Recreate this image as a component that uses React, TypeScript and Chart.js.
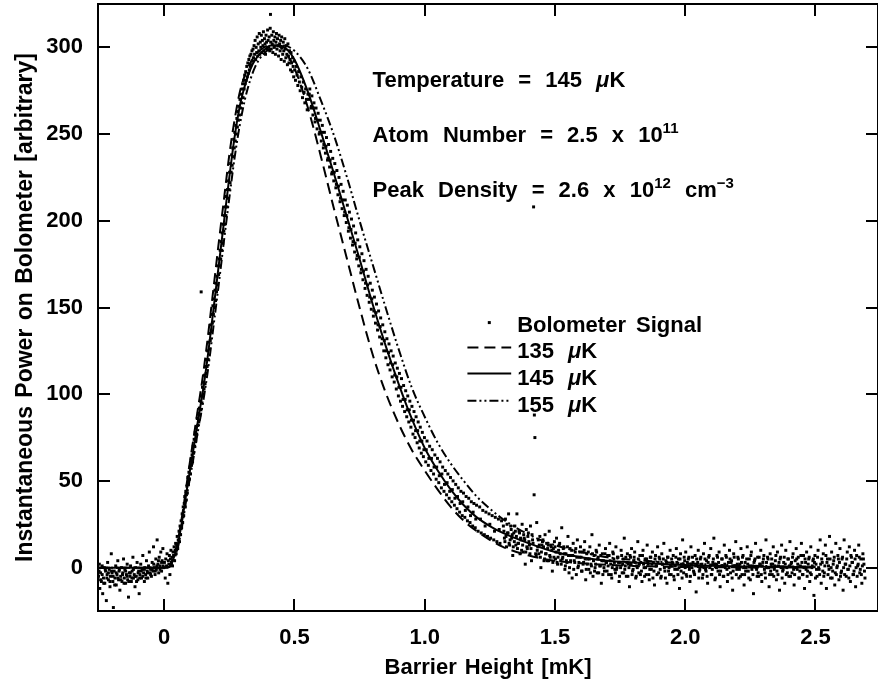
import React, { useEffect, useRef } from "react";
import { Chart, registerables } from "chart.js";

Chart.register(...registerables);

const X_MIN = -0.254;
const X_MAX = 2.74;
const Y_MIN = -25;
const Y_MAX = 325;
const xTickValues = [0, 0.5, 1, 1.5, 2, 2.5];
const xTickLabels = ["0", "0.5", "1.0", "1.5", "2.0", "2.5"];
const yTickValues = [0, 50, 100, 150, 200, 250, 300];
const yTickLabels = ["0", "50", "100", "150", "200", "250", "300"];

const curve135X = [-0.25, 0.0, 0.02, 0.03, 0.05, 0.07, 0.09, 0.11, 0.13, 0.15, 0.17, 0.19, 0.21, 0.23, 0.25, 0.27, 0.29, 0.31, 0.33, 0.36, 0.40, 0.43, 0.46, 0.50, 0.55, 0.60, 0.65, 0.70, 0.75, 0.80, 0.85, 0.90, 0.95, 1.00, 1.05, 1.10, 1.15, 1.20, 1.25, 1.30, 1.40, 1.50, 1.60, 1.80, 2.00, 2.50];
const curve135Y = [0, 0, 0.6, 4, 14, 31, 52, 72, 92, 112, 136, 162, 188, 213, 238, 258, 274, 284, 291, 297, 301, 301, 298, 288, 266, 238, 208, 179, 150, 123, 101, 83, 68, 56, 45, 35, 27, 21, 16, 12, 7, 4, 2.5, 1, 0.4, 0];

const curve145X = [-0.25, 0.0, 0.02, 0.03, 0.05, 0.07, 0.09, 0.11, 0.13, 0.15, 0.17, 0.19, 0.21, 0.23, 0.25, 0.27, 0.29, 0.31, 0.33, 0.35, 0.38, 0.41, 0.44, 0.47, 0.50, 0.55, 0.60, 0.65, 0.70, 0.75, 0.80, 0.85, 0.90, 0.95, 1.00, 1.05, 1.10, 1.15, 1.20, 1.25, 1.30, 1.40, 1.50, 1.60, 1.70, 1.80, 2.00, 2.20, 2.50];
const curve145Y = [0, 0, 0.5, 3, 12, 28, 48, 66, 85, 103, 125, 150, 175, 200, 225, 248, 266, 278, 287, 293, 298, 301, 301, 299, 293, 275, 252, 228, 203, 178, 152, 128, 106, 86, 69, 56, 45, 36, 29, 24, 20, 14, 9, 6, 4, 3, 1.5, 0.7, 0.2];

const curve155X = [-0.25, 0.0, 0.02, 0.03, 0.05, 0.07, 0.09, 0.11, 0.13, 0.15, 0.17, 0.19, 0.21, 0.23, 0.25, 0.27, 0.29, 0.31, 0.33, 0.35, 0.38, 0.42, 0.46, 0.50, 0.55, 0.60, 0.65, 0.70, 0.75, 0.80, 0.85, 0.90, 0.95, 1.00, 1.05, 1.10, 1.15, 1.20, 1.25, 1.30, 1.40, 1.50, 1.60, 1.70, 1.80, 2.00, 2.20, 2.50];
const curve155Y = [0, 0, 0.4, 2, 10, 25, 44, 61, 79, 96, 116, 140, 164, 189, 213, 236, 255, 270, 281, 289, 296, 300, 301, 298, 288, 270, 250, 226, 200, 175, 150, 126, 104, 87, 72, 60, 50, 41, 34, 28, 19, 13, 9, 6, 4.5, 2.5, 1.3, 0.5];

const signalBaseline = [[-0.252,-5],[-0.249,2],[-0.247,-12],[-0.244,-3],[-0.241,-8],[-0.238,1],[-0.236,-15],[-0.233,-6],[-0.230,0],[-0.228,-9],[-0.225,-2],[-0.222,-19],[-0.219,-4],[-0.217,3],[-0.214,-7],[-0.211,-1],[-0.208,-11],[-0.206,-5],[-0.203,8],[-0.200,-3],[-0.197,-8],[-0.195,-23],[-0.192,-2],[-0.189,-6],[-0.186,1],[-0.184,-10],[-0.181,-4],[-0.178,4],[-0.175,-7],[-0.173,-2],[-0.170,-13],[-0.167,-5],[-0.164,0],[-0.162,-8],[-0.159,-3],[-0.156,5],[-0.153,-6],[-0.151,-1],[-0.148,-9],[-0.145,-4],[-0.142,2],[-0.140,-7],[-0.137,-17],[-0.134,-3],[-0.131,-5],[-0.129,1],[-0.126,-8],[-0.123,-2],[-0.120,6],[-0.118,-6],[-0.115,-4],[-0.112,-11],[-0.109,0],[-0.107,-5],[-0.104,3],[-0.101,-7],[-0.098,-2],[-0.096,-15],[-0.093,-4],[-0.090,2],[-0.087,-6],[-0.085,-1],[-0.082,7],[-0.079,-3],[-0.076,-8],[-0.074,0],[-0.071,-4],[-0.068,4],[-0.065,-2],[-0.063,-6],[-0.060,1],[-0.057,9],[-0.054,-3],[-0.052,-1],[-0.049,-5],[-0.046,3],[-0.043,-2],[-0.041,12],[-0.038,0],[-0.035,-4],[-0.032,5],[-0.030,-1],[-0.027,16],[-0.024,2],[-0.021,-3],[-0.019,6],[-0.016,1],[-0.013,9],[-0.010,-2],[-0.008,4],[-0.005,11],[-0.002,0]];

const signalBaselineMid = [[-0.250,-2],[-0.244,-7],[-0.238,-4],[-0.232,-9],[-0.226,-1],[-0.220,-6],[-0.214,-3],[-0.208,-8],[-0.202,-2],[-0.196,-5],[-0.190,-10],[-0.184,-3],[-0.178,-6],[-0.172,-1],[-0.166,-7],[-0.160,-4],[-0.154,-9],[-0.148,-2],[-0.142,-5],[-0.136,-8],[-0.130,-3],[-0.124,-6],[-0.118,-1],[-0.112,-5],[-0.106,-8],[-0.100,-3],[-0.094,-6],[-0.088,-2],[-0.082,-5],[-0.076,-1],[-0.070,-6],[-0.064,-3],[-0.058,0],[-0.052,-4],[-0.046,-1],[-0.040,2],[-0.034,-2],[-0.028,1],[-0.022,4],[-0.016,-1],[-0.010,3],[-0.004,1]];

const signalRise = [[0.001,3],[0.004,-6],[0.006,5],[0.009,1],[0.011,8],[0.014,-9],[0.016,4],[0.018,2],[0.020,7],[0.022,-4],[0.024,5],[0.026,10],[0.028,3],[0.030,6],[0.032,1],[0.034,9],[0.036,7],[0.038,12],[0.040,4],[0.042,10],[0.044,14],[0.046,8],[0.048,13],[0.050,18],[0.052,11],[0.054,16],[0.057,21],[0.059,15],[0.061,24],[0.063,19],[0.065,27],[0.067,23],[0.069,31],[0.071,26],[0.073,35],[0.075,30],[0.077,37],[0.079,41],[0.081,35],[0.083,44],[0.085,39],[0.087,47],[0.089,43],[0.091,52],[0.093,48],[0.095,55],[0.097,51],[0.099,58],[0.101,54],[0.103,63],[0.105,59],[0.107,65],[0.109,61],[0.111,70],[0.113,66],[0.115,74],[0.117,70],[0.119,78],[0.121,73],[0.123,81],[0.125,77],[0.127,86],[0.129,82],[0.131,89],[0.133,84],[0.135,92],[0.137,88],[0.139,96],[0.141,91],[0.142,159],[0.143,99],[0.145,95],[0.147,104],[0.149,100],[0.151,107],[0.153,103],[0.155,111],[0.157,106],[0.159,116],[0.161,112],[0.163,120],[0.165,116],[0.167,125],[0.169,120],[0.171,130],[0.173,126],[0.175,135],[0.177,131],[0.179,140],[0.181,136],[0.183,146],[0.185,141],[0.187,151],[0.189,146],[0.191,155],[0.193,150],[0.195,160],[0.197,154],[0.199,164],[0.201,159],[0.203,168],[0.205,163],[0.207,174],[0.209,169],[0.211,178],[0.213,174],[0.215,183],[0.217,178],[0.219,188],[0.221,183],[0.223,193],[0.225,187],[0.227,198],[0.229,194],[0.231,203],[0.233,198],[0.235,208],[0.237,203],[0.239,214],[0.241,208],[0.243,218],[0.245,213],[0.247,223],[0.249,218],[0.251,228],[0.253,222],[0.255,233],[0.257,228],[0.259,238],[0.261,232],[0.263,242],[0.265,237],[0.267,247],[0.269,242],[0.271,251],[0.273,246],[0.275,255],[0.277,250],[0.279,259],[0.281,254],[0.283,263],[0.285,258],[0.287,266],[0.289,261],[0.291,270],[0.293,265],[0.295,273],[0.297,268],[0.299,276]];

const signalPeak = [[0.301,279],[0.303,271],[0.305,281],[0.307,276],[0.309,284],[0.311,279],[0.313,286],[0.315,281],[0.317,289],[0.319,283],[0.321,291],[0.323,285],[0.325,293],[0.327,287],[0.329,295],[0.331,289],[0.333,296],[0.335,290],[0.337,298],[0.339,292],[0.341,299],[0.343,294],[0.345,301],[0.347,296],[0.349,304],[0.351,293],[0.353,300],[0.355,297],[0.357,306],[0.359,295],[0.361,302],[0.363,298],[0.365,308],[0.367,296],[0.369,303],[0.371,300],[0.373,307],[0.375,297],[0.377,304],[0.379,301],[0.381,309],[0.383,298],[0.385,305],[0.387,302],[0.389,296],[0.391,307],[0.393,303],[0.395,299],[0.397,310],[0.399,304],[0.401,300],[0.403,306],[0.405,298],[0.407,311],[0.408,319],[0.409,303],[0.411,299],[0.413,307],[0.415,302],[0.417,297],[0.419,309],[0.421,304],[0.423,300],[0.425,306],[0.427,296],[0.429,303],[0.431,308],[0.433,299],[0.435,305],[0.437,301],[0.439,295],[0.441,307],[0.443,302],[0.445,298],[0.447,304],[0.449,293],[0.451,306],[0.453,300],[0.455,296],[0.457,303],[0.459,298],[0.461,292],[0.463,305],[0.465,299],[0.467,294],[0.469,301],[0.471,296],[0.473,290],[0.475,302],[0.477,295],[0.479,291],[0.481,298],[0.483,293],[0.485,287],[0.487,297],[0.489,291],[0.491,286],[0.493,294],[0.495,289],[0.497,283],[0.499,292],[0.501,287],[0.504,281],[0.507,289],[0.510,284],[0.513,278],[0.516,286],[0.519,280],[0.522,275],[0.525,283],[0.528,277],[0.531,271],[0.534,280],[0.537,274],[0.540,268],[0.543,276],[0.546,270],[0.549,264],[0.552,273]];

const signalFall = [[0.555,270],[0.559,276],[0.563,265],[0.567,272],[0.571,261],[0.575,268],[0.579,257],[0.583,265],[0.587,253],[0.591,262],[0.595,250],[0.599,258],[0.603,246],[0.607,255],[0.611,242],[0.615,251],[0.619,239],[0.623,248],[0.627,235],[0.631,244],[0.635,231],[0.639,240],[0.643,227],[0.647,236],[0.651,223],[0.655,233],[0.659,219],[0.663,229],[0.667,215],[0.671,225],[0.675,211],[0.679,221],[0.683,207],[0.687,217],[0.691,203],[0.695,212],[0.699,199],[0.703,209],[0.707,194],[0.711,205],[0.715,190],[0.719,201],[0.723,186],[0.727,197],[0.731,182],[0.735,193],[0.739,178],[0.743,189],[0.747,174],[0.751,185],[0.755,170],[0.759,181],[0.763,166],[0.767,177],[0.771,161],[0.775,172],[0.779,157],[0.783,168],[0.787,153],[0.791,164],[0.795,149],[0.799,160],[0.803,145],[0.807,156],[0.811,141],[0.815,152],[0.819,137],[0.823,148],[0.827,133],[0.831,144],[0.835,129],[0.839,140],[0.843,125],[0.847,136],[0.851,121],[0.855,132],[0.859,117],[0.863,129],[0.867,114],[0.871,125],[0.875,110],[0.879,122],[0.883,107],[0.887,118],[0.891,103],[0.895,115],[0.899,99],[0.903,112],[0.907,96],[0.911,109],[0.915,93],[0.919,105],[0.923,90],[0.927,102],[0.931,87],[0.935,99],[0.939,84],[0.943,96],[0.947,81],[0.951,93],[0.955,77],[0.959,90],[0.963,75],[0.967,87],[0.971,72],[0.975,84],[0.979,69],[0.983,81],[0.987,66],[0.991,78],[0.995,64],[0.999,75],[1.004,61],[1.009,73],[1.014,59],[1.019,70],[1.024,56],[1.029,68],[1.034,54],[1.039,65],[1.044,51],[1.049,63],[1.054,49],[1.059,61],[1.064,46],[1.069,58],[1.074,44],[1.079,56],[1.084,42],[1.089,54],[1.094,40],[1.099,52],[1.104,38],[1.109,50],[1.114,36],[1.119,48],[1.124,34],[1.129,46],[1.134,32],[1.139,44],[1.144,30],[1.149,43],[1.154,29],[1.159,41],[1.164,27],[1.169,40],[1.174,26],[1.179,38],[1.184,24],[1.189,37],[1.194,23],[1.199,36],[1.205,21],[1.211,35],[1.217,20],[1.223,33],[1.229,19],[1.235,32],[1.241,18],[1.247,31],[1.253,17],[1.259,30],[1.265,16],[1.271,29],[1.277,15],[1.283,28],[1.289,14],[1.295,27]];

const signalFallCore = [[0.557,273],[0.565,266],[0.573,265],[0.581,259],[0.589,258],[0.597,251],[0.605,251],[0.613,244],[0.621,243],[0.629,236],[0.637,235],[0.645,228],[0.653,228],[0.661,221],[0.669,220],[0.677,213],[0.685,212],[0.693,205],[0.701,203],[0.709,196],[0.717,195],[0.725,188],[0.733,187],[0.741,180],[0.749,179],[0.757,172],[0.765,171],[0.773,164],[0.781,163],[0.789,156],[0.797,155],[0.805,148],[0.813,147],[0.821,140],[0.829,139],[0.837,132],[0.845,131],[0.853,125],[0.861,124],[0.869,118],[0.877,117],[0.885,111],[0.893,110],[0.901,104],[0.909,104],[0.917,97],[0.925,97],[0.933,91],[0.941,91],[0.949,85],[0.957,85],[0.965,79],[0.973,79],[0.981,73],[0.989,73],[0.997,68],[1.006,68],[1.016,63],[1.026,63],[1.036,58],[1.046,58],[1.056,53],[1.066,54],[1.076,48],[1.086,49],[1.096,44],[1.106,45],[1.116,40],[1.126,41],[1.136,37],[1.146,38],[1.156,33],[1.166,35],[1.176,30],[1.186,32],[1.196,28],[1.214,28],[1.232,24],[1.250,25],[1.268,21],[1.286,22]];

const signalGlitch = [[1.418,208],[1.421,88],[1.423,75],[1.420,42]];

const signalTail = [[1.302,24],[1.306,17],[1.310,28],[1.314,12],[1.318,20],[1.322,31],[1.326,13],[1.330,24],[1.334,17],[1.338,7],[1.342,20],[1.346,24],[1.350,13],[1.354,31],[1.358,14],[1.362,21],[1.366,8],[1.370,16],[1.374,25],[1.378,9],[1.382,17],[1.386,2],[1.390,22],[1.394,11],[1.398,20],[1.402,13],[1.406,24],[1.410,4],[1.414,16],[1.426,8],[1.430,26],[1.434,12],[1.438,8],[1.442,18],[1.446,0],[1.450,13],[1.454,16],[1.458,4],[1.462,19],[1.466,8],[1.470,4],[1.474,13],[1.478,21],[1.482,6],[1.486,12],[1.490,-2],[1.494,11],[1.498,15],[1.502,5],[1.506,17],[1.510,2],[1.514,10],[1.518,14],[1.522,4],[1.526,23],[1.530,6],[1.534,12],[1.538,-1],[1.542,8],[1.546,3],[1.550,18],[1.554,-3],[1.558,11],[1.562,7],[1.566,-6],[1.570,14],[1.574,4],[1.578,9],[1.582,-4],[1.586,16],[1.590,1],[1.594,6],[1.598,12],[1.602,-2],[1.606,9],[1.610,3],[1.614,15],[1.618,-7],[1.622,8],[1.626,5],[1.630,-1],[1.634,12],[1.638,2],[1.642,19],[1.646,-5],[1.650,7],[1.654,0],[1.658,10],[1.662,-3],[1.666,6],[1.670,13],[1.674,1],[1.678,-9],[1.682,8],[1.686,4],[1.690,-2],[1.694,11],[1.698,3],[1.702,7],[1.706,-4],[1.710,14],[1.714,2],[1.718,-6],[1.722,9],[1.726,5],[1.730,-1],[1.734,12],[1.738,0],[1.742,6],[1.746,-8],[1.750,3],[1.754,10],[1.758,-3],[1.762,5],[1.766,17],[1.770,1],[1.774,-5],[1.778,8],[1.782,2],[1.786,-11],[1.790,6],[1.794,11],[1.798,-2],[1.802,4],[1.806,9],[1.810,-6],[1.814,1],[1.818,15],[1.822,-3],[1.826,7],[1.830,3],[1.834,-8],[1.838,10],[1.842,0],[1.846,5],[1.850,-4],[1.854,13],[1.858,2],[1.862,-7],[1.866,6],[1.870,-1],[1.874,9],[1.878,3],[1.882,-10],[1.886,7],[1.890,1],[1.894,12],[1.898,-3],[1.902,5],[1.906,-6],[1.910,8],[1.914,2],[1.918,14],[1.922,-2],[1.926,4],[1.930,-9],[1.934,6],[1.938,0],[1.942,10],[1.946,-4],[1.950,3],[1.954,7],[1.958,-7],[1.962,1],[1.966,11],[1.970,-1],[1.974,5],[1.978,-12],[1.982,8],[1.986,2],[1.990,16],[1.994,-3],[1.998,4],[2.002,9],[2.006,-5],[2.010,1],[2.014,6],[2.018,-8],[2.022,12],[2.026,0],[2.030,3],[2.034,-3],[2.038,7],[2.042,-14],[2.046,2],[2.050,10],[2.054,-2],[2.058,5],[2.062,1],[2.066,-6],[2.070,8],[2.074,14],[2.078,-1],[2.082,4],[2.086,-9],[2.090,6],[2.094,0],[2.098,11],[2.102,-4],[2.106,3],[2.110,17],[2.114,-7],[2.118,2],[2.122,7],[2.126,-2],[2.130,9],[2.134,-11],[2.138,1],[2.142,5],[2.146,-5],[2.150,13],[2.154,0],[2.158,6],[2.162,-8],[2.166,3],[2.170,10],[2.174,-3],[2.178,4],[2.182,-13],[2.186,8],[2.190,1],[2.194,15],[2.198,-1],[2.202,6],[2.206,-6],[2.210,2],[2.214,11],[2.218,-4],[2.222,7],[2.226,-10],[2.230,3],[2.234,0],[2.238,12],[2.242,-2],[2.246,5],[2.250,-7],[2.254,9],[2.258,1],[2.262,-15],[2.266,4],[2.270,14],[2.274,-1],[2.278,6],[2.282,-5],[2.286,2],[2.290,10],[2.294,-8],[2.298,3],[2.302,7],[2.306,-3],[2.310,16],[2.314,0],[2.318,5],[2.322,-11],[2.326,8],[2.330,2],[2.334,-4],[2.338,12],[2.342,-1],[2.346,4],[2.350,-7],[2.354,9],[2.358,1],[2.362,-13],[2.366,6],[2.370,13],[2.374,-2],[2.378,3],[2.382,-9],[2.386,10],[2.390,0],[2.394,5],[2.398,-5],[2.402,15],[2.406,2],[2.410,-3],[2.414,8],[2.418,-10],[2.422,4],[2.426,11],[2.430,-1],[2.434,6],[2.438,-6],[2.442,1],[2.446,14],[2.450,-4],[2.454,7],[2.458,-12],[2.462,3],[2.466,9],[2.470,-2],[2.474,5],[2.478,-8],[2.482,12],[2.486,0],[2.490,4],[2.494,-16],[2.498,7],[2.502,2],[2.506,-5],[2.510,10],[2.514,-1],[2.518,16],[2.522,-9],[2.526,3],[2.530,8],[2.534,-3],[2.538,13],[2.542,-12],[2.546,5],[2.550,1],[2.554,18],[2.558,-6],[2.562,9],[2.566,-2],[2.570,4],[2.574,-10],[2.578,14],[2.582,0],[2.586,7],[2.590,-7],[2.594,11],[2.598,-3],[2.602,5],[2.606,-13],[2.610,16],[2.614,2],[2.618,-5],[2.622,9],[2.626,-1],[2.630,12],[2.634,-8],[2.638,6],[2.642,3],[2.646,-4],[2.650,10],[2.654,-11],[2.658,7],[2.662,1],[2.666,13],[2.670,-3],[2.674,5],[2.678,-9],[2.682,8],[2.686,2],[2.690,-6]];

const signalTailMid = [[1.308,15],[1.316,25],[1.324,14],[1.332,22],[1.340,12],[1.348,21],[1.356,11],[1.364,20],[1.372,10],[1.380,19],[1.388,9],[1.396,18],[1.404,8],[1.412,19],[1.428,7],[1.436,16],[1.444,6],[1.452,15],[1.460,5],[1.468,14],[1.476,4],[1.484,13],[1.492,3],[1.500,12],[1.508,3],[1.516,13],[1.524,2],[1.532,11],[1.540,1],[1.548,12],[1.556,0],[1.564,10],[1.572,-1],[1.580,11],[1.588,0],[1.596,9],[1.604,-2],[1.612,10],[1.620,-1],[1.628,9],[1.636,-3],[1.644,8],[1.652,-2],[1.660,9],[1.668,-3],[1.676,7],[1.684,-4],[1.692,8],[1.700,-2],[1.708,7],[1.716,-4],[1.724,8],[1.732,-3],[1.740,6],[1.748,-5],[1.756,7],[1.764,-3],[1.772,6],[1.780,-5],[1.788,7],[1.796,-4],[1.804,6],[1.812,-5],[1.820,5],[1.828,-4],[1.836,7],[1.844,-5],[1.852,5],[1.860,-4],[1.868,6],[1.876,-6],[1.884,5],[1.892,-4],[1.900,6],[1.908,-5],[1.916,5],[1.924,-6],[1.932,6],[1.940,-4],[1.948,5],[1.956,-5],[1.964,6],[1.972,-4],[1.980,5],[1.988,-6],[1.996,6],[2.004,-4],[2.012,5],[2.020,-5],[2.028,6],[2.036,-4],[2.044,5],[2.052,-6],[2.060,6],[2.068,-4],[2.076,5],[2.084,-5],[2.092,7],[2.100,-4],[2.108,5],[2.116,-6],[2.124,6],[2.132,-4],[2.140,5],[2.148,-5],[2.156,7],[2.164,-4],[2.172,5],[2.180,-6],[2.188,6],[2.196,-4],[2.204,5],[2.212,-5],[2.220,6],[2.228,-4],[2.236,5],[2.244,-6],[2.252,7],[2.260,-4],[2.268,5],[2.276,-5],[2.284,6],[2.292,-4],[2.300,5],[2.308,-6],[2.316,6],[2.324,-4],[2.332,5],[2.340,-5],[2.348,7],[2.356,-4],[2.364,5],[2.372,-6],[2.380,6],[2.388,-4],[2.396,5],[2.404,-5],[2.412,6],[2.420,-4],[2.428,5],[2.436,-6],[2.444,7],[2.452,-4],[2.460,5],[2.468,-5],[2.476,6],[2.484,-4],[2.492,5],[2.500,-6],[2.508,6],[2.516,-4],[2.524,5],[2.532,-5],[2.540,7],[2.548,-4],[2.556,5],[2.564,-6],[2.572,6],[2.580,-4],[2.588,5],[2.596,-5],[2.604,6],[2.612,-4],[2.620,5],[2.628,-6],[2.636,7],[2.644,-4],[2.652,5],[2.660,-5],[2.668,6],[2.676,-4],[2.684,5]];

const signalTailCore = [[1.304,21],[1.312,18],[1.320,20],[1.328,16],[1.336,19],[1.344,15],[1.352,18],[1.360,14],[1.368,17],[1.376,13],[1.384,16],[1.392,12],[1.400,15],[1.408,11],[1.416,14],[1.432,10],[1.440,13],[1.448,9],[1.456,12],[1.464,8],[1.472,11],[1.480,7],[1.488,10],[1.496,6],[1.504,9],[1.512,6],[1.520,8],[1.528,5],[1.536,8],[1.544,4],[1.552,7],[1.560,4],[1.568,7],[1.576,3],[1.584,6],[1.592,3],[1.600,6],[1.608,2],[1.616,5],[1.624,2],[1.632,5],[1.640,1],[1.648,4],[1.656,2],[1.664,5],[1.672,1],[1.680,4],[1.688,0],[1.696,3],[1.704,1],[1.712,4],[1.720,0],[1.728,3],[1.736,-1],[1.744,3],[1.752,0],[1.760,2],[1.768,-1],[1.776,3],[1.784,0],[1.792,2],[1.800,-1],[1.808,3],[1.816,0],[1.824,2],[1.832,-2],[1.840,2],[1.848,0],[1.856,3],[1.864,-1],[1.872,2],[1.880,-2],[1.888,1],[1.896,3],[1.904,-1],[1.912,2],[1.920,0],[1.928,3],[1.936,-2],[1.944,1],[1.952,2],[1.960,-1],[1.968,3],[1.976,0],[1.984,-2],[1.992,2],[2.000,0],[2.008,3],[2.016,-1],[2.024,2],[2.032,-2],[2.040,1],[2.048,3],[2.056,-1],[2.064,2],[2.072,0],[2.080,-2],[2.088,3],[2.096,1],[2.104,-1],[2.112,2],[2.120,0],[2.128,3],[2.136,-2],[2.144,1],[2.152,2],[2.160,-1],[2.168,0],[2.176,3],[2.184,-2],[2.192,1],[2.200,2],[2.208,-1],[2.216,3],[2.224,0],[2.232,-2],[2.240,2],[2.248,1],[2.256,-1],[2.264,3],[2.272,0],[2.280,-3],[2.288,2],[2.296,1],[2.304,-1],[2.312,3],[2.320,0],[2.328,-2],[2.336,2],[2.344,1],[2.352,-2],[2.360,3],[2.368,0],[2.376,-1],[2.384,2],[2.392,-3],[2.400,1],[2.408,3],[2.416,-1],[2.424,0],[2.432,2],[2.440,-2],[2.448,3],[2.456,0],[2.464,-1],[2.472,2],[2.480,-3],[2.488,1],[2.496,3],[2.504,-1],[2.512,0],[2.520,2],[2.528,-2],[2.536,1],[2.544,3],[2.552,-1],[2.560,0],[2.568,2],[2.576,-3],[2.584,1],[2.592,3],[2.600,-2],[2.608,0],[2.616,2],[2.624,-1],[2.632,1],[2.640,3],[2.648,-2],[2.656,0],[2.664,2],[2.672,-1],[2.680,1],[2.688,-2]];

const seriesNames = ["Bolometer Signal", "135 μK", "145 μK", "155 μK"];

const FONT = "'Liberation Sans', Arial, Helvetica, sans-serif";
const TEXT_SIZE = 22;
const WORD_GAP = 8;
const LEGEND_GAP = 4;

type Part = { t: string; it?: boolean; sup?: boolean };

const annotations: { x: number; y: number; parts: Part[] }[] = [
  { x: 0.8, y: 277.3, parts: [{ t: "Temperature = 145 " }, { t: "μ", it: true }, { t: "K" }] },
  { x: 0.8, y: 245.6, parts: [{ t: "Atom Number = 2.5 x 10" }, { t: "11", sup: true }] },
  { x: 0.8, y: 213.9, parts: [{ t: "Peak Density = 2.6 x 10" }, { t: "12", sup: true }, { t: " cm" }, { t: "−3", sup: true }] },
];

const legendAnchor = { dotX: 1.248, lineX0: 1.164, lineX1: 1.332, textX: 1.355 };
const legendRows = [
  { text: 136, line: 141.3 },
  { text: 121, line: 126.9 },
  { text: 105.5, line: 111.9 },
  { text: 90, line: 96.3 },
];

function drawRich(ctx: CanvasRenderingContext2D, parts: Part[], x: number, y: number, size: number, gap: number) {
  let cx = x;
  for (const p of parts) {
    const fs = p.sup ? Math.round(size * 0.7) : size;
    ctx.font = `${p.it ? "italic " : ""}bold ${fs}px ${FONT}`;
    const dy = p.sup ? -size * 0.38 : 0;
    const tokens = p.t.split(/( )/);
    for (const tok of tokens) {
      if (tok === "") continue;
      if (tok === " ") {
        cx += ctx.measureText(" ").width + gap;
        continue;
      }
      ctx.fillText(tok, cx, y + dy);
      cx += ctx.measureText(tok).width;
    }
  }
}

function toPoints(xs: number[], ys: number[]) {
  return xs.map((x, i) => ({ x, y: ys[i] }));
}

const framePlugin = {
  id: "framePlugin",
  beforeDraw(chart: any) {
    const ctx = chart.ctx;
    ctx.save();
    ctx.fillStyle = "#ffffff";
    ctx.fillRect(0, 0, chart.width, chart.height);
    ctx.restore();
    if ("wordSpacing" in ctx) (ctx as any).wordSpacing = "2px";
  },
  afterDraw(chart: any) {
    const ctx: CanvasRenderingContext2D = chart.ctx;
    const { left, right, top, bottom } = chart.chartArea;
    const xs = chart.scales.x;
    const ys = chart.scales.y;
    ctx.save();
    if ("wordSpacing" in ctx) (ctx as any).wordSpacing = "0px";
    ctx.strokeStyle = "#000";
    ctx.lineWidth = 2;
    ctx.setLineDash([]);
    ctx.strokeRect(left, top, right - left, bottom - top);
    const TL = 12;
    ctx.beginPath();
    for (const v of xTickValues) {
      const px = Math.round(xs.getPixelForValue(v));
      ctx.moveTo(px, bottom);
      ctx.lineTo(px, bottom - TL);
      ctx.moveTo(px, top);
      ctx.lineTo(px, top + TL);
    }
    for (const v of yTickValues) {
      const py = Math.round(ys.getPixelForValue(v));
      ctx.moveTo(left, py);
      ctx.lineTo(left + TL, py);
      ctx.moveTo(right, py);
      ctx.lineTo(right - TL, py);
    }
    ctx.stroke();

    ctx.fillStyle = "#000";
    ctx.textBaseline = "alphabetic";
    ctx.textAlign = "left";
    for (const a of annotations) {
      drawRich(ctx, a.parts, xs.getPixelForValue(a.x), ys.getPixelForValue(a.y), TEXT_SIZE, WORD_GAP);
    }

    const ds = chart.data.datasets;
    const tx = xs.getPixelForValue(legendAnchor.textX);
    const lx0 = xs.getPixelForValue(legendAnchor.lineX0);
    const lx1 = xs.getPixelForValue(legendAnchor.lineX1);
    legendRows.forEach((row, i) => {
      const ty = ys.getPixelForValue(row.text);
      const ly = ys.getPixelForValue(row.line);
      if (i === 0) {
        const dx = xs.getPixelForValue(legendAnchor.dotX);
        ctx.fillRect(dx - 1.5, ly - 1.5, 3, 3);
        drawRich(ctx, [{ t: seriesNames[0] }], tx, ty, TEXT_SIZE, LEGEND_GAP);
      } else {
        ctx.beginPath();
        ctx.lineWidth = 2;
        ctx.setLineDash(ds[i].borderDash || []);
        ctx.moveTo(lx0, ly);
        ctx.lineTo(lx1, ly);
        ctx.stroke();
        ctx.setLineDash([]);
        const label = seriesNames[i].split(" ")[0];
        drawRich(ctx, [{ t: label + " " }, { t: "μ", it: true }, { t: "K" }], tx, ty, TEXT_SIZE, LEGEND_GAP + 4);
      }
    });
    ctx.restore();
  },
};

export default function App() {
  const ref = useRef<HTMLCanvasElement | null>(null);
  useEffect(() => {
    if (!ref.current) return;
    const signal = [
      ...signalBaseline,
      ...signalBaselineMid,
      ...signalRise,
      ...signalPeak,
      ...signalFall,
      ...signalFallCore,
      ...signalGlitch,
      ...signalTail,
      ...signalTailMid,
      ...signalTailCore,
    ].map(([x, y]) => ({ x, y }));
    const chart = new Chart(ref.current, {
      type: "scatter",
      data: {
        datasets: [
          {
            type: "scatter",
            label: seriesNames[0],
            data: signal,
            pointStyle: "rect",
            pointRadius: 2.1,
            pointBorderWidth: 0,
            pointBackgroundColor: "#000",
            backgroundColor: "#000",
            order: 2,
          } as any,
          {
            type: "line",
            label: seriesNames[1],
            data: toPoints(curve135X, curve135Y),
            borderColor: "#000",
            borderWidth: 2,
            borderDash: [11, 6],
            pointRadius: 0,
            cubicInterpolationMode: "monotone",
            fill: false,
            order: 1,
          },
          {
            type: "line",
            label: seriesNames[2],
            data: toPoints(curve145X, curve145Y),
            borderColor: "#000",
            borderWidth: 2,
            borderDash: [],
            pointRadius: 0,
            cubicInterpolationMode: "monotone",
            fill: false,
            order: 1,
          },
          {
            type: "line",
            label: seriesNames[3],
            data: toPoints(curve155X, curve155Y),
            borderColor: "#000",
            borderWidth: 2,
            borderDash: [9, 3, 2, 3, 2, 3],
            pointRadius: 0,
            cubicInterpolationMode: "monotone",
            fill: false,
            order: 1,
          },
        ],
      },
      options: {
        animation: false,
        responsive: false,
        maintainAspectRatio: false,
        events: [],
        layout: { padding: { top: 4, right: 2, bottom: 0, left: 0 } },
        plugins: { legend: { display: false }, tooltip: { enabled: false }, title: { display: false } },
        scales: {
          x: {
            type: "linear",
            position: "bottom",
            min: X_MIN,
            max: X_MAX,
            afterBuildTicks: (axis: any) => {
              axis.ticks = xTickValues.map((v) => ({ value: v }));
            },
            afterFit: (scale: any) => {
              scale.height = 78;
              scale.paddingLeft = 0;
              scale.paddingRight = 0;
              scale.paddingTop = 0;
              scale.paddingBottom = 0;
            },
            grid: { display: false, drawTicks: false },
            border: { display: false },
            ticks: {
              autoSkip: false,
              maxRotation: 0,
              padding: 14,
              color: "#000",
              font: { family: FONT, size: 22, weight: "bold" },
              callback: (_v: any, i: number) => xTickLabels[i],
            },
            title: {
              display: true,
              text: "Barrier Height [mK]",
              color: "#000",
              font: { family: FONT, size: 22, weight: "bold" },
              padding: { top: 0, bottom: 8 },
            },
          },
          y: {
            type: "linear",
            position: "left",
            min: Y_MIN,
            max: Y_MAX,
            afterBuildTicks: (axis: any) => {
              axis.ticks = yTickValues.map((v) => ({ value: v }));
            },
            afterFit: (scale: any) => {
              scale.width = 98;
              scale.paddingLeft = 0;
              scale.paddingRight = 0;
              scale.paddingTop = 0;
              scale.paddingBottom = 0;
            },
            grid: { display: false, drawTicks: false },
            border: { display: false },
            ticks: {
              autoSkip: false,
              padding: 15,
              color: "#000",
              font: { family: FONT, size: 22, weight: "bold" },
              callback: (_v: any, i: number) => yTickLabels[i],
            },
            title: {
              display: true,
              text: "Instantaneous Power on Bolometer [arbitrary]",
              color: "#000",
              font: { family: FONT, size: 23, weight: "bold" },
              padding: { top: 12, bottom: 0 },
            },
          },
        },
      },
      plugins: [framePlugin],
    } as any);
    return () => chart.destroy();
  }, []);
  return (
    <div
      style={{
        position: "absolute",
        left: 0,
        top: 0,
        width: 878,
        height: 689,
        overflow: "hidden",
        background: "#fff",
      }}
    >
      <canvas ref={ref} width={882} height={689} style={{ display: "block" }} />
    </div>
  );
}
